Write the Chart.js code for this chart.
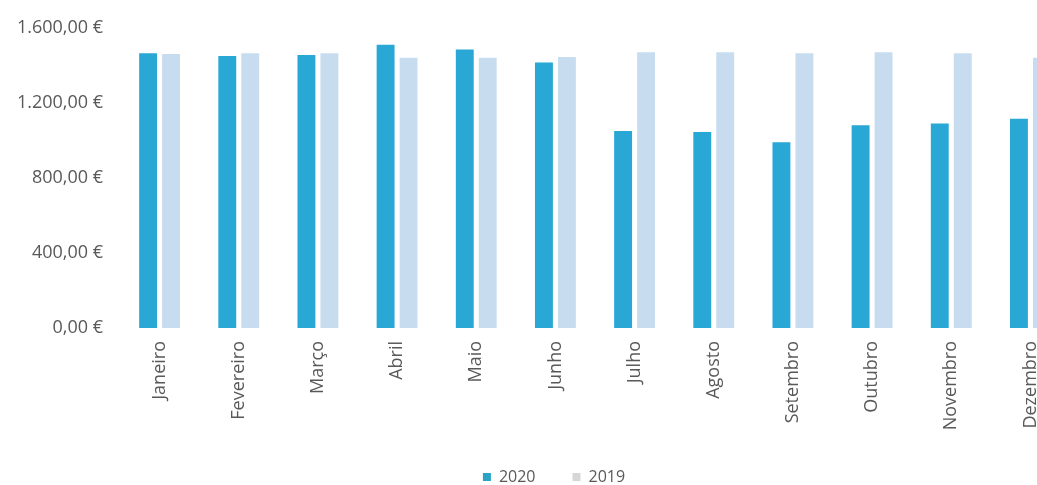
<!DOCTYPE html>
<html>
<head>
<meta charset="utf-8">
<script src="https://cdn.jsdelivr.net/npm/chart.js@4.4.1/dist/chart.umd.min.js"></script>
<style>
  html, body { margin: 0; padding: 0; background: #ffffff; overflow: hidden; }
  #wrap { width: 1110px; height: 495px; }
</style>
</head>
<body>
<div id="wrap"><canvas id="c" width="1110" height="495"></canvas></div>
<script>
const categories = ['Janeiro','Fevereiro','Março','Abril','Maio','Junho','Julho','Agosto','Setembro','Outubro','Novembro','Dezembro'];
const values2020 = [1465, 1450, 1455, 1510, 1485, 1415, 1050, 1045, 990, 1080, 1090, 1115];
const values2019 = [1460, 1465, 1465, 1440, 1440, 1445, 1470, 1470, 1465, 1470, 1465, 1440];
const seriesNames = ['2020', '2019'];
const yTicks = [0, 400, 800, 1200, 1600];

function euro(v) {
  const fixed = Number(v).toFixed(2);
  let [intPart, dec] = fixed.split('.');
  intPart = intPart.replace(/\B(?=(\d{3})+(?!\d))/g, '.');
  return intPart + ',' + dec + ' €';
}

const legendColors = ['#2aa3c6', '#d6d6d6'];
const FONT = '"Open Sans", "DejaVu Sans", sans-serif';

new Chart(document.getElementById('c'), {
  type: 'bar',
  data: {
    labels: categories,
    datasets: [
      { label: seriesNames[0], data: values2020, backgroundColor: '#29a7d5', borderWidth: 0 },
      { label: seriesNames[1], data: values2019, backgroundColor: '#c7dcef', borderWidth: 0 }
    ]
  },
  options: {
    responsive: false,
    animation: false,
    devicePixelRatio: 1,
    layout: { padding: { top: 25, right: 2, left: 0, bottom: 0 } },
    datasets: { bar: { categoryPercentage: 0.58, barPercentage: 0.78 } },
    plugins: {
      tooltip: { enabled: false },
      legend: {
        position: 'bottom',
        labels: {
          boxWidth: 8,
          boxHeight: 8,
          padding: 37,
          color: '#595959',
          font: { family: FONT, size: 16 },
          generateLabels(chart) {
            return chart.data.datasets.map((ds, i) => ({
              text: ds.label,
              fillStyle: legendColors[i],
              strokeStyle: legendColors[i],
              lineWidth: 0,
              hidden: false,
              datasetIndex: i,
              fontColor: '#595959'
            }));
          }
        }
      }
    },
    scales: {
      x: {
        grid: { display: false, drawTicks: false },
        border: { display: false },
        ticks: {
          minRotation: 90, maxRotation: 90, padding: 13,
          color: '#595959',
          font: { family: FONT, size: 18 }
        },
        afterFit(scale) { scale.height = 104; }
      },
      y: {
        min: 0, max: 1600,
        afterBuildTicks(scale) { scale.ticks = yTicks.map(v => ({ value: v })); },
        grid: { display: false, drawTicks: false },
        border: { display: false },
        ticks: {
          padding: 17,
          color: '#595959',
          font: { family: FONT, size: 18 },
          callback: (v) => euro(v)
        },
        afterFit(scale) { scale.width = 120; }
      },
      spacer: {
        type: 'linear',
        position: 'right',
        min: 0, max: 1,
        grid: { display: false, drawTicks: false },
        border: { display: false },
        ticks: { display: false },
        afterFit(scale) { scale.width = 38; }
      }
    }
  }
});
</script>
</body>
</html>
